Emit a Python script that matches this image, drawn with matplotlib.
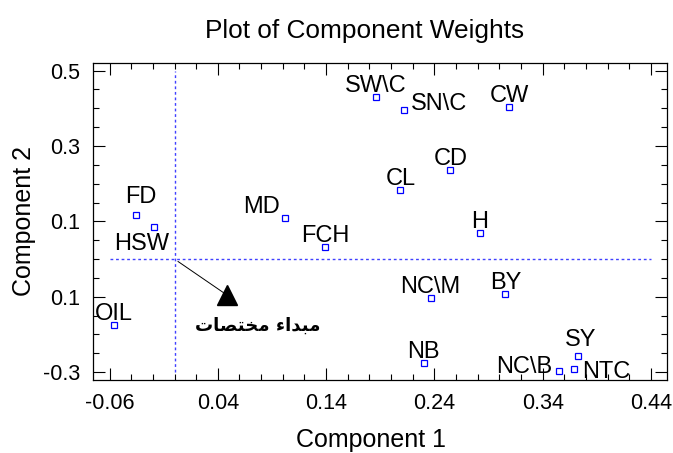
import matplotlib
matplotlib.use("Agg")
import matplotlib.pyplot as plt
from matplotlib.ticker import MultipleLocator

plt.rcParams['font.family'] = ['Liberation Sans', 'DejaVu Sans']

# component weights
labels = ["FD", "HSW", "OIL", "MD", "FCH", "SW\\C", "SN\\C", "CL", "CD", "CW",
          "H", "NC\\M", "NB", "BY", "SY", "NC\\B", "NTC"]
comp1 = [-0.0355, -0.0189, -0.056, 0.1016, 0.1394, 0.1857, 0.212, 0.2085, 0.2547,
         0.309, 0.2818, 0.2365, 0.230, 0.3055, 0.373, 0.3548, 0.3687]
comp2 = [0.116, 0.085, -0.175, 0.108, 0.0325, 0.429, 0.396, 0.183, 0.2355,
         0.4036, 0.069, -0.1045, -0.276, -0.094, -0.256, -0.297, -0.2915]

# "origin of coordinates" marker, arabic text pre-shaped in visual order
origin_pt = (0.0486, -0.0958)
origin_text = "\ufe95\ufe8e\ufebc\ufe98\ufea8\ufee3 \ufe80\ufe8d\ufeaa\ufe92\ufee3"

x_ticks = [-0.06, 0.04, 0.14, 0.24, 0.34, 0.44]
x_tick_labels = ["-0.06", "0.04", "0.14", "0.24", "0.34", "0.44"]
y_ticks = [-0.3, -0.1, 0.1, 0.3, 0.5]
y_tick_labels = ["-0.3", "0.1", "0.1", "0.3", "0.5"]

# label placement (pixels from the point, alignment)
label_pos = {"FD": (4.5, 12, "center"), "HSW": (-12.5, -23, "center"),
             "MD": (-5, 5, "right"), "SN\\C": (7, 0, "left"),
             "SY": (2, 10, "center"), "NC\\B": (-6.5, -2.5, "right"),
             "NTC": (8.5, -9.5, "left")}

fig = plt.figure(figsize=(6.73, 4.53), dpi=100)
ax = fig.add_axes([0.1386, 0.1611, 0.8529, 0.7004])

line_col = "#4040ff"
ax.plot([x_ticks[0], x_ticks[-1]], [0, 0], color=line_col, lw=1.0, ls=(0, (2, 2)))
ax.plot([0, 0], [y_ticks[0], y_ticks[-1]], color=line_col, lw=1.0, ls=(0, (2, 2)))

ax.plot(comp1, comp2, ls="none", marker="s", ms=5, mfc="none", mec="blue", mew=0.9)

for lab, x, y in zip(labels, comp1, comp2):
    dx, dy, ha = label_pos.get(lab, (0, 5, "center"))
    ax.annotate(lab, (x, y), xytext=(dx, dy), textcoords="offset pixels",
                ha=ha, va="baseline", fontsize=17)

ax.plot(*origin_pt, marker="^", ms=14.5, color="black", ls="none")
ax.annotate("", xy=origin_pt, xytext=(0, 0),
            arrowprops=dict(arrowstyle="-", color="black", lw=0.7, shrinkA=3, shrinkB=3))
ax.annotate(origin_text, origin_pt, xytext=(31, -31), textcoords="offset pixels",
            ha="center", va="center", fontsize=13, fontweight="bold",
            family="DejaVu Sans")

ax.set_xlim(-0.075, 0.455)
ax.set_ylim(-0.321, 0.521)
ax.set_xticks(x_ticks, labels=x_tick_labels)
ax.set_yticks(y_ticks, labels=y_tick_labels)
ax.xaxis.set_minor_locator(MultipleLocator(0.02))
ax.yaxis.set_minor_locator(MultipleLocator(0.05))
ax.tick_params(which="both", direction="in", top=True, right=True, width=0.8,
               labelsize=15.5, pad=9.5)
ax.tick_params(which="major", length=8.4)
ax.tick_params(which="minor", length=4.3)
for s in ax.spines.values():
    s.set_linewidth(0.9)

fig.text(365 / 673, 1 - 38.3 / 453, "Plot of Component Weights", ha="center",
         va="baseline", fontsize=18.9)
fig.text(371 / 673, 1 - 446.7 / 453, "Component 1", ha="center", va="baseline",
         fontsize=18)
fig.text(24 / 673, 0.5 * (1 - 62.7 / 453 + 1 - 380 / 453), "Component 2",
         rotation=90, ha="center", va="center", fontsize=18)

fig.savefig("out.png", dpi=100)
